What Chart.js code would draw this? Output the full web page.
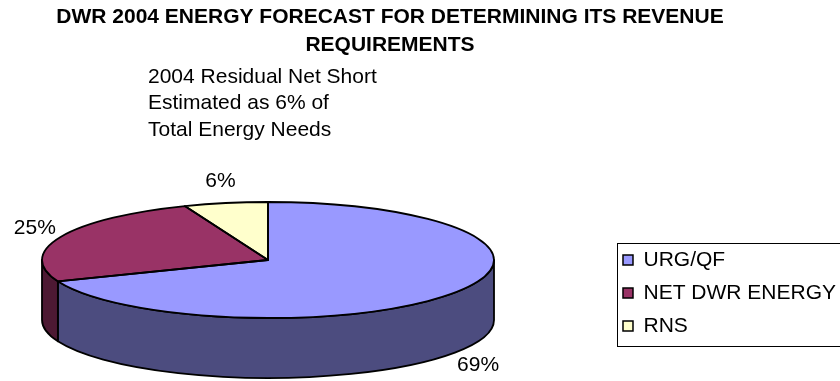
<!DOCTYPE html>
<html>
<head>
<meta charset="utf-8">
<script src="https://cdn.jsdelivr.net/npm/chart.js@4.4.0/dist/chart.umd.min.js"></script>
<style>
body { margin: 0; background: #fff; }
canvas { display: block; }
</style>
</head>
<body>
<canvas id="content" width="840" height="381"></canvas>
<script>
var categories = ["URG/QF", "NET DWR ENERGY", "RNS"];
var shares = [69, 25, 6];
var shareLabels = ["69%", "25%", "6%"];
var titleLines = ["DWR 2004 ENERGY FORECAST FOR DETERMINING ITS REVENUE", "REQUIREMENTS"];
var noteLines = ["2004 Residual Net Short", "Estimated as 6% of", "Total Energy Needs"];
var topColors = ["#9999FF", "#993366", "#FFFFCC"];
var sideColors = ["#4C4C7F", "#4D1933", "#80801A"];

var FONT = "'Liberation Sans', Arial, sans-serif";
// where the tilted pie sits on the page
var pieX = 268, pieY = 260, tilt = 58 / 226, depth = 60;

function frontParts(start, end) {
    // pieces of a slice that face the viewer (lower half of the ellipse)
    var parts = [];
    [[0, Math.PI], [2 * Math.PI, 3 * Math.PI]].forEach(function (w) {
        var a = Math.max(start, w[0]), b = Math.min(end, w[1]);
        if (b > a) parts.push([a, b]);
    });
    return parts;
}

var pie3d = {
    id: "pie3d",
    beforeDatasetsDraw: function (chart) {
        var ctx = chart.ctx;
        var arcs = chart.getDatasetMeta(0).data;
        var r = arcs[0].outerRadius, ry = r * tilt;
        ctx.save();
        ctx.lineWidth = 1.8;
        ctx.strokeStyle = "#000";
        ctx.lineJoin = "round";
        arcs.forEach(function (arc, i) {
            frontParts(arc.startAngle, arc.endAngle).forEach(function (p) {
                ctx.beginPath();
                ctx.ellipse(pieX, pieY, r, ry, 0, p[0], p[1]);
                ctx.ellipse(pieX, pieY + depth, r, ry, 0, p[1], p[0], true);
                ctx.closePath();
                ctx.fillStyle = sideColors[i];
                ctx.fill();
                ctx.stroke();
            });
        });
        ctx.restore();
        // squash the library's round pie into the top face
        ctx.save();
        ctx.translate(pieX, pieY);
        ctx.scale(1, tilt);
        ctx.translate(-arcs[0].x, -arcs[0].y);
    },
    afterDatasetsDraw: function (chart) {
        var ctx = chart.ctx;
        ctx.restore();
        var arcs = chart.getDatasetMeta(0).data;
        var r = arcs[0].outerRadius, ry = r * tilt;
        ctx.save();
        ctx.lineWidth = 1.8;
        ctx.strokeStyle = "#000";
        ctx.lineJoin = "round";
        arcs.forEach(function (arc) {
            ctx.beginPath();
            ctx.moveTo(pieX, pieY);
            ctx.ellipse(pieX, pieY, r, ry, 0, arc.startAngle, arc.endAngle);
            ctx.closePath();
            ctx.stroke();
        });
        ctx.fillStyle = "#000";
        ctx.font = "21px " + FONT;
        ctx.textAlign = "center";
        ctx.textBaseline = "middle";
        arcs.forEach(function (arc, i) {
            var mid = (arc.startAngle + arc.endAngle) / 2;
            var s = Math.sin(mid);
            var lx = pieX + (r + 28) * Math.cos(mid);
            var ly = pieY + (ry + 22) * s + (s > 0 ? depth : 0);
            ctx.fillText(shareLabels[i], lx, ly);
        });
        ctx.restore();
    },
    afterDraw: function (chart) {
        var ctx = chart.ctx;
        ctx.save();
        ctx.fillStyle = "#000";
        ctx.textBaseline = "middle";
        ctx.textAlign = "center";
        ctx.font = "bold 21px " + FONT;
        ctx.fillText(titleLines[0], 390, 17);
        ctx.fillText(titleLines[1], 390, 45);
        ctx.textAlign = "left";
        ctx.font = "21px " + FONT;
        noteLines.forEach(function (line, i) {
            ctx.fillText(line, 148, 77 + i * 26.5);
        });
        // frame round the legend
        var lg = chart.legend;
        var hb = lg.legendHitBoxes;
        var top = hb[0].top - 7;
        var bottom = hb[hb.length - 1].top + hb[hb.length - 1].height + 9;
        ctx.strokeStyle = "#000";
        ctx.lineWidth = 1;
        ctx.strokeRect(Math.round(lg.left) + 6.5, Math.round(top) + 0.5, 300, Math.round(bottom - top));
        ctx.restore();
    }
};

var ctx = document.getElementById("content").getContext("2d");
new Chart(ctx, {
    type: "pie",
    data: {
        labels: categories,
        datasets: [{
            data: shares,
            backgroundColor: topColors,
            borderWidth: 0,
            clip: false
        }]
    },
    options: {
        responsive: false,
        animation: false,
        radius: 226,
        layout: { padding: { top: 205, left: 0, right: -6, bottom: 0 } },
        plugins: {
            tooltip: { enabled: false },
            title: { display: false },
            legend: {
                position: "right",
                align: "center",
                labels: {
                    color: "#000",
                    font: { family: FONT, size: 21 },
                    boxWidth: 10,
                    boxHeight: 10,
                    padding: 12,
                    generateLabels: function (chart) {
                        return categories.map(function (name, i) {
                            return {
                                text: name,
                                fillStyle: topColors[i],
                                strokeStyle: "#000",
                                lineWidth: 1.5,
                                fontColor: "#000",
                                hidden: false,
                                index: i
                            };
                        });
                    }
                }
            }
        }
    },
    plugins: [pie3d]
});
</script>
</body>
</html>
